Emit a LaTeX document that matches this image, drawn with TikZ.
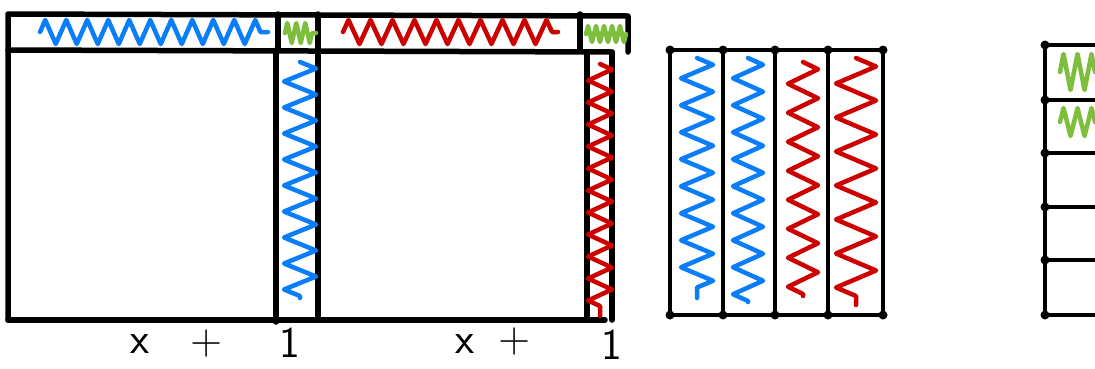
\documentclass[tikz,border=0pt]{standalone}
\usetikzlibrary{decorations.pathmorphing}
\definecolor{penblue}{RGB}{10,125,250}
\definecolor{penred}{RGB}{205,0,0}
\definecolor{pengreen}{RGB}{125,190,60}

\begin{document}
\begin{tikzpicture}[x=1pt,y=-1pt,line cap=round,line join=round,
    frame/.style={line width=5.5pt},
    thinframe/.style={line width=4.5pt},
    scribble/.style n args={2}{line width=4.5pt, decorate,
      decoration={zigzag, amplitude=#1, segment length=#2}},
    corner/.style={circle, fill=black, inner sep=0, minimum size=9pt},
    hand/.style={font=\sffamily\fontsize{44}{44}\selectfont, inner sep=0}]
  \useasboundingbox (0,0) rectangle (1095,368);

  % x + 1 times x + 1
  \draw[frame] (8,320) -- (8,14) -- (628,16) -- (628,52);
  \draw[frame] (8,50) -- (612,52);
  \draw[frame] (8,320) -- (605,320);
  \draw[frame] (278,14) -- (278,50);
  \draw[frame] (276,50) -- (276,322);
  \draw[frame] (318,14) -- (318,320);
  \draw[frame] (580,14) -- (580,50);
  \draw[frame] (587,52) -- (587,320);
  \draw[frame] (612,52) -- (612,320);

  % top strip
  \draw[penblue, scribble={12pt}{21pt}] (40,32) -- (268,32);
  \draw[pengreen, scribble={10pt}{9pt}] (285,33) -- (316,33);
  \draw[penred, scribble={12pt}{22pt}] (343,32) -- (558,32);
  \draw[pengreen, scribble={8pt}{8pt}] (586,34) -- (626,34);
  % side strips
  \draw[penblue, scribble={16pt}{26pt}] (300,62) -- (300,298);
  \draw[penred, scribble={12pt}{22pt}] (600,64) -- (600,316);

  % labels
  \node[hand] (xa) at (140,344) {x};
  \node[hand] (pa) at (207,344) {+};
  \node[hand] (oa) at (290,343) {1};
  \node[hand] (xb) at (465,344) {x};
  \node[hand] (pb) at (515,342) {+};
  \node[hand] (ob) at (612,345) {1};

  % 4 strips
  \foreach \c in {670,723,775,828,883} {
    \draw[thinframe] (\c,50) -- (\c,315);
    \node[corner] at (\c,50) {};
    \node[corner] at (\c,315) {};
  }
  \draw[thinframe] (670,50) -- (883,50);
  \draw[thinframe] (670,315) -- (883,315);
  \draw[penblue, scribble={16pt}{27pt}] (697,58) -- (697,298);
  \draw[penblue, scribble={15pt}{27pt}] (748,58) -- (748,302);
  \draw[penred, scribble={15pt}{29pt}] (803,62) -- (803,296);
  \draw[penred, scribble={20pt}{34pt}] (856,58) -- (856,305);

  % ones
  \draw[thinframe] (1045,45) -- (1045,315);
  \foreach \r in {45,100,153,207,260,315} {
    \draw[thinframe] (1045,\r) -- (1100,\r);
    \node[corner] at (1045,\r) {};
  }
  \draw[pengreen, scribble={18pt}{14pt}] (1060,72) -- (1095,72);
  \draw[pengreen, scribble={14pt}{14pt}] (1060,122) -- (1095,122);
\end{tikzpicture}
\end{document}
